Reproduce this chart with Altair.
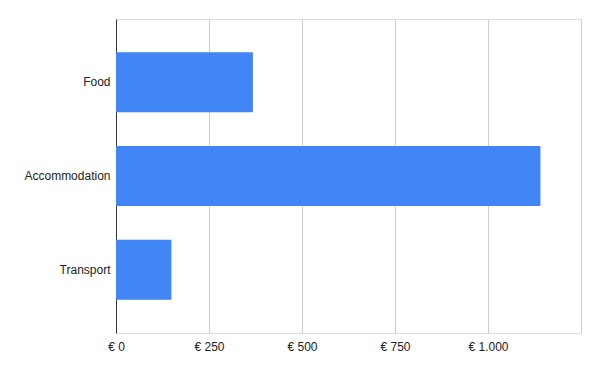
import altair as alt
import pandas as pd

categories = ["Food", "Accommodation", "Transport"]
values = [368, 1141, 149]
tick_values = [0, 250, 500, 750, 1000, 1250]

df = pd.DataFrame({"category": categories, "value": values})

chart = alt.Chart(df).mark_bar(color="#4285F4").encode(
    y=alt.Y("category:N", sort=categories, title=None,
            scale=alt.Scale(paddingInner=0.36, paddingOuter=0.355),
            axis=alt.Axis(domain=True, domainColor="#333333", ticks=False,
                          labelFont="Liberation Sans", labelFontSize=12,
                          labelColor="#222222", labelPadding=6, grid=False)),
    x=alt.X("value:Q", title=None,
            scale=alt.Scale(domain=[0, 1250], nice=False),
            axis=alt.Axis(values=tick_values, domain=False, ticks=False,
                          grid=True, gridColor="#CCCCCC", labelFlush=False,
                          labelOverlap=False,
                          labelExpr="datum.value == 1250 ? '' : '€ ' + replace(format(datum.value, ',d'), ',', '.')",
                          labelFont="Liberation Sans", labelFontSize=12,
                          labelColor="#222222", labelPadding=8)),
).properties(
    width=465, height=314,
    autosize="none",
    padding={"left": 116, "top": 19, "right": 19, "bottom": 38},
).configure_view(stroke=None).configure(background="white")

chart.save("out.html", embed_options={"renderer": "svg", "actions": False})
